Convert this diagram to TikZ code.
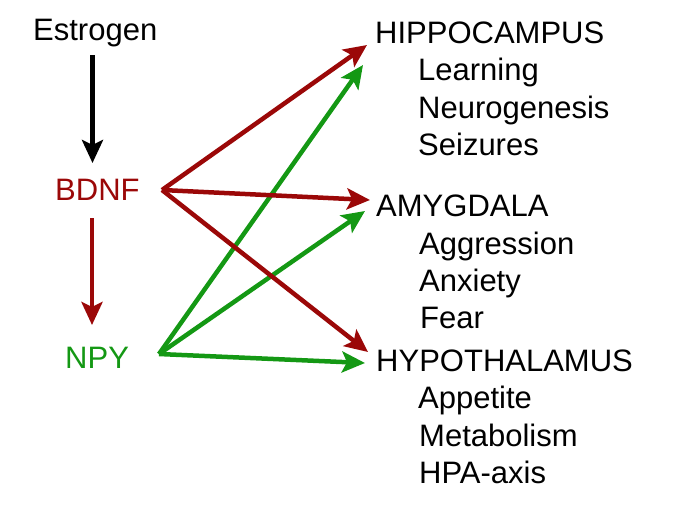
\documentclass[tikz,border=0pt]{standalone}
\usepackage{fontspec}
\setmainfont{Liberation Sans}
\usetikzlibrary{arrows.meta}
\definecolor{dred}{RGB}{155,8,8}
\definecolor{dgreen}{RGB}{20,152,20}
\begin{document}
\begin{tikzpicture}[x=1pt,y=-1pt,
  lbl/.style={anchor=base west,inner sep=0pt,font=\fontsize{31}{37}\selectfont},
  conn/.style={line width=4.5pt,-{Stealth[length=23pt,width=21pt,inset=5pt]}}]
\useasboundingbox (0,0) rectangle (684,509);
% left nodes
\node[lbl] (estrogen) at (33,40) {Estrogen};
\node[lbl,text=dred] (bdnf) at (55,200) {BDNF};
\node[lbl,text=dgreen] (npy) at (65,368) {NPY};
% right nodes
\node[lbl] (hip) at (375,43) {HIPPOCAMPUS};
\node[lbl] (learn) at (418,80) {Learning};
\node[lbl] (neuro) at (418,118) {Neurogenesis};
\node[lbl] (seiz) at (418,155) {Seizures};
\node[lbl] (amy) at (376,216) {AMYGDALA};
\node[lbl] (aggr) at (419,254) {Aggression};
\node[lbl] (anx) at (419,291) {Anxiety};
\node[lbl] (fear) at (420,328) {Fear};
\node[lbl] (hyp) at (376,371) {HYPOTHALAMUS};
\node[lbl] (app) at (418,408) {Appetite};
\node[lbl] (meta) at (419,446) {Metabolism};
\node[lbl] (hpa) at (419,483) {HPA-axis};
% connector end points
\coordinate (eOut) at (92.5,55);
\coordinate (bIn) at (92.5,163);
\coordinate (bDown) at (92,218);
\coordinate (nIn) at (92,325);
\coordinate (bOut) at (162,190);
\coordinate (nOut) at (159,354);
\coordinate (hipR) at (367,45);
\coordinate (hipG) at (363,65);
\coordinate (amyR) at (370,200);
\coordinate (amyG) at (365,211);
\coordinate (hypR) at (368,352);
\coordinate (hypG) at (365,363);
% connectors
\draw[conn,black] (eOut) -- (bIn);
\draw[conn,dred] (bDown) -- (nIn);
\draw[conn,dgreen] (nOut) -- (hipG);
\draw[conn,dgreen] (nOut) -- (amyG);
\draw[conn,dred] (bOut) -- (hipR);
\draw[conn,dred] (bOut) -- (amyR);
\draw[conn,dred] (bOut) -- (hypR);
\draw[conn,dgreen] (nOut) -- (hypG);
\end{tikzpicture}
\end{document}
